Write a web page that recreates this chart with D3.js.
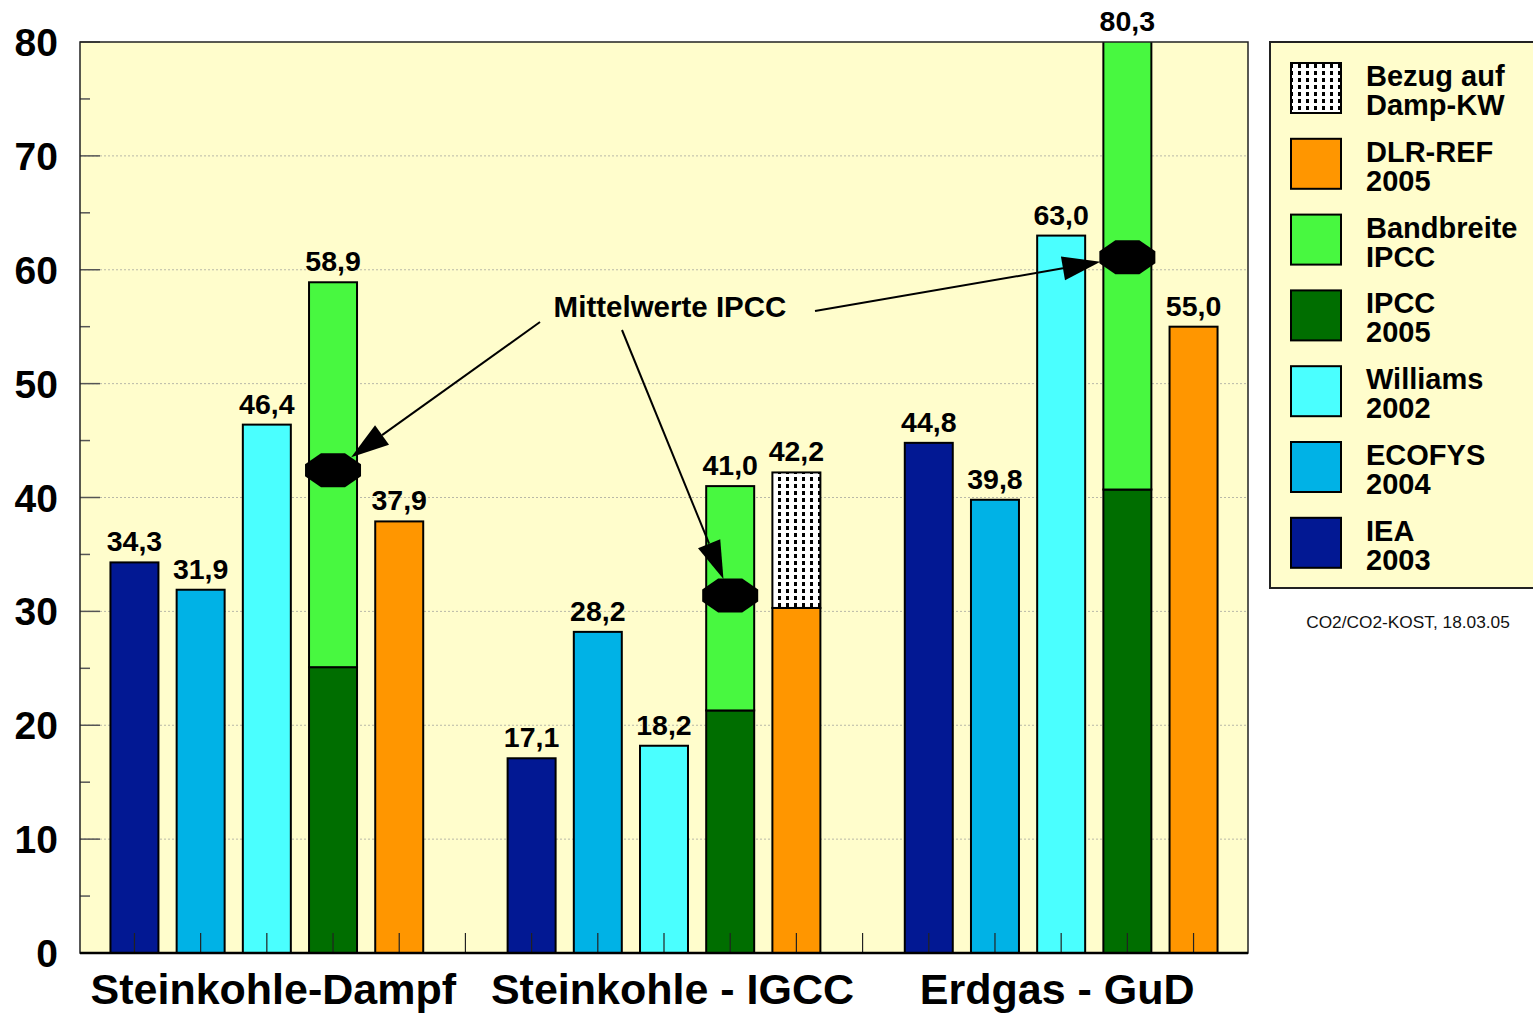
<!DOCTYPE html>
<html>
<head>
<meta charset="utf-8">
<script src="https://cdn.jsdelivr.net/npm/d3@7"></script>
<style>
  html, body { margin: 0; padding: 0; background: #ffffff; }
  svg { display: block; font-family: "Liberation Sans", Arial, sans-serif; }
</style>
</head>
<body>
<svg id="chart" width="1533" height="1013"></svg>
<script>
// CO2-Vermeidungskosten je Kraftwerkstyp und Quelle
const categories = ["Steinkohle-Dampf", "Steinkohle - IGCC", "Erdgas - GuD"];
const iea2003      = [34.3, 17.1, 44.8];
const ecofys2004   = [31.9, 28.2, 39.8];
const williams2002 = [46.4, 18.2, 63.0];
const ipcc2005Low  = [25.1, 21.3, 40.7];   // untere Grenze IPCC 2005
const ipccHigh     = [58.9, 41.0, 80.3];   // obere Grenze Bandbreite IPCC
const ipccMean     = [42.4, 31.4, 61.1];   // Mittelwerte IPCC
const dlrRef2005   = [37.9, 30.3, 55.0];
const bezugDamp    = [null, 42.2, null];   // Bezug auf Dampf-KW
const yTicks = [0, 10, 20, 30, 40, 50, 60, 70, 80];
const yMinorTicks = [5, 15, 25, 35, 45, 55, 65, 75];

const legendItems = [
  { key: "bezug",    lines: ["Bezug auf", "Damp-KW"] },
  { key: "dlr",      lines: ["DLR-REF", "2005"] },
  { key: "band",     lines: ["Bandbreite", "IPCC"] },
  { key: "ipcc",     lines: ["IPCC", "2005"] },
  { key: "williams", lines: ["Williams", "2002"] },
  { key: "ecofys",   lines: ["ECOFYS", "2004"] },
  { key: "iea",      lines: ["IEA", "2003"] }
];

const colors = {
  iea: "#021893", ecofys: "#00B2E6", williams: "#4AFFFF",
  ipcc: "#006E00", band: "#48F840", dlr: "#FF9600", bezug: "url(#dots)"
};

const fmt = v => d3.format(".1f")(v).replace(".", ",");

const svg = d3.select("#chart");
const plot = { left: 80, right: 1248, top: 42, bottom: 953 };
const bg = "#FFFDCC";

// dotted fill pattern
const defs = svg.append("defs");
const pat = defs.append("pattern").attr("id", "dots")
  .attr("patternUnits", "userSpaceOnUse").attr("width", 8).attr("height", 7);
pat.append("rect").attr("width", 8).attr("height", 7).attr("fill", "#ffffff");
pat.append("rect").attr("x", 2).attr("y", 1).attr("width", 3).attr("height", 4).attr("fill", "#000");
defs.append("clipPath").attr("id", "plotClip").append("rect")
  .attr("x", plot.left).attr("y", plot.top)
  .attr("width", plot.right - plot.left).attr("height", plot.bottom - plot.top);

// scales: 3 groups of 5 bars plus an empty slot between groups
const nSlots = categories.length * 6 - 1;
const x = d3.scaleBand().domain(d3.range(nSlots))
  .range([plot.left, plot.right]).paddingInner(0.275).paddingOuter(0.46);
const y = d3.scaleLinear().domain([0, 80]).range([plot.bottom, plot.top]);
const slot = (g, i) => g * 6 + i;
const cx = s => x(s) + x.bandwidth() / 2;

// plot background
svg.append("rect").attr("x", plot.left).attr("y", plot.top)
  .attr("width", plot.right - plot.left).attr("height", plot.bottom - plot.top)
  .attr("fill", bg);

// grid lines
svg.append("g").selectAll("line").data(yTicks.filter(t => t > 0 && t < 80)).join("line")
  .attr("x1", plot.left).attr("x2", plot.right)
  .attr("y1", d => y(d)).attr("y2", d => y(d))
  .attr("stroke", "#b8b8a8").attr("stroke-width", 1).attr("stroke-dasharray", "2,2");

// y axis ticks
svg.append("g").selectAll("line").data(yTicks).join("line")
  .attr("x1", plot.left).attr("x2", plot.left + 20)
  .attr("y1", d => y(d)).attr("y2", d => y(d))
  .attr("stroke", "#555").attr("stroke-width", 1.5);
svg.append("g").selectAll("line").data(yMinorTicks).join("line")
  .attr("x1", plot.left).attr("x2", plot.left + 10)
  .attr("y1", d => y(d)).attr("y2", d => y(d))
  .attr("stroke", "#555").attr("stroke-width", 1.5);

// bars
const bars = [];
categories.forEach((c, g) => {
  bars.push({ s: slot(g, 0), y0: 0, y1: iea2003[g], fill: colors.iea });
  bars.push({ s: slot(g, 1), y0: 0, y1: ecofys2004[g], fill: colors.ecofys });
  bars.push({ s: slot(g, 2), y0: 0, y1: williams2002[g], fill: colors.williams });
  bars.push({ s: slot(g, 3), y0: 0, y1: ipcc2005Low[g], fill: colors.ipcc });
  bars.push({ s: slot(g, 3), y0: ipcc2005Low[g], y1: ipccHigh[g], fill: colors.band });
  bars.push({ s: slot(g, 4), y0: 0, y1: dlrRef2005[g], fill: colors.dlr });
  if (bezugDamp[g] != null)
    bars.push({ s: slot(g, 4), y0: dlrRef2005[g], y1: bezugDamp[g], fill: colors.bezug });
});
svg.append("g").attr("clip-path", "url(#plotClip)").selectAll("rect").data(bars).join("rect")
  .attr("x", d => x(d.s)).attr("width", x.bandwidth())
  .attr("y", d => y(d.y1)).attr("height", d => y(d.y0) - y(d.y1))
  .attr("fill", d => d.fill).attr("stroke", "#000").attr("stroke-width", 2);

// bottom ticks at every slot
svg.append("g").selectAll("line").data(d3.range(nSlots)).join("line")
  .attr("x1", d => cx(d)).attr("x2", d => cx(d))
  .attr("y1", plot.bottom).attr("y2", plot.bottom - 20)
  .attr("stroke", "#222").attr("stroke-width", 1.2);

// frame
svg.append("rect").attr("x", plot.left).attr("y", plot.top)
  .attr("width", plot.right - plot.left).attr("height", plot.bottom - plot.top)
  .attr("fill", "none").attr("stroke", "#222").attr("stroke-width", 1.5);
svg.append("line").attr("x1", plot.left).attr("x2", plot.right)
  .attr("y1", plot.bottom).attr("y2", plot.bottom).attr("stroke", "#000").attr("stroke-width", 2.5);

// value labels
const labels = [];
categories.forEach((c, g) => {
  labels.push({ s: slot(g, 0), v: iea2003[g] });
  labels.push({ s: slot(g, 1), v: ecofys2004[g] });
  labels.push({ s: slot(g, 2), v: williams2002[g] });
  labels.push({ s: slot(g, 3), v: ipccHigh[g] });
  labels.push({ s: slot(g, 4), v: bezugDamp[g] != null ? bezugDamp[g] : dlrRef2005[g] });
});
svg.append("g").selectAll("text").data(labels).join("text")
  .attr("x", d => cx(d.s))
  .attr("y", d => Math.max(y(d.v), plot.top) - 11)
  .attr("text-anchor", "middle").attr("font-size", 28.5).attr("font-weight", "bold")
  .attr("fill", "#000").text(d => fmt(d.v));

// y axis labels
svg.append("g").selectAll("text").data(yTicks).join("text")
  .attr("x", 58).attr("y", d => y(d) + 14)
  .attr("text-anchor", "end").attr("font-size", 39).attr("font-weight", "bold")
  .text(d => d);

// category labels
const catShift = [6.5, 8.5, -4];
svg.append("g").selectAll("text").data(categories).join("text")
  .attr("x", (d, g) => (cx(slot(g, 0)) + cx(slot(g, 4))) / 2 + catShift[g])
  .attr("y", 1004)
  .attr("text-anchor", "middle").attr("font-size", 43).attr("font-weight", "bold")
  .text(d => d);

// IPCC mean markers (octagons)
const oct = [[-28, -6], [-12, -17], [12, -17], [28, -6], [28, 6], [12, 17], [-12, 17], [-28, 6]];
const markers = categories.map((c, g) => ({ x: cx(slot(g, 3)), y: y(ipccMean[g]) }));
svg.append("g").selectAll("polygon").data(markers).join("polygon")
  .attr("points", d => oct.map(p => [d.x + p[0], d.y + p[1]].join(",")).join(" "))
  .attr("fill", "#000");

// annotation with arrows
const note = { x: 670, y: 317, text: "Mittelwerte IPCC" };
svg.append("text").attr("x", note.x).attr("y", note.y)
  .attr("text-anchor", "middle").attr("font-size", 29.5).attr("font-weight", "bold")
  .text(note.text);
const starts = [[540, 322], [622, 330], [815, 311]];
const arrows = svg.append("g");
starts.forEach((st, i) => {
  const m = markers[i];
  let dx = st[0] - m.x, dy = st[1] - m.y;
  const len = Math.hypot(dx, dy);
  dx /= len; dy /= len;
  const r = 1 / Math.sqrt((dx / 28) ** 2 + (dy / 17) ** 2);
  const tip = [m.x + dx * r, m.y + dy * r];
  const hl = 38, hw = 12;
  const base = [tip[0] + dx * hl, tip[1] + dy * hl];
  arrows.append("line").attr("x1", st[0]).attr("y1", st[1])
    .attr("x2", base[0]).attr("y2", base[1]).attr("stroke", "#000").attr("stroke-width", 2);
  arrows.append("polygon")
    .attr("points", [tip, [base[0] - dy * hw, base[1] + dx * hw], [base[0] + dy * hw, base[1] - dx * hw]]
      .map(p => p.join(",")).join(" "))
    .attr("fill", "#000");
});

// legend
const lg = svg.append("g");
lg.append("rect").attr("x", 1270).attr("y", 42).attr("width", 280).attr("height", 546)
  .attr("fill", bg).attr("stroke", "#222").attr("stroke-width", 2);
legendItems.forEach((it, i) => {
  const top = 63 + i * 75.8;
  lg.append("rect").attr("x", 1291).attr("y", top).attr("width", 50).attr("height", 50)
    .attr("fill", colors[it.key]).attr("stroke", "#000").attr("stroke-width", 2);
  it.lines.forEach((ln, j) => {
    lg.append("text").attr("x", 1366).attr("y", top + 23 + j * 29)
      .attr("font-size", 29).attr("font-weight", "bold").text(ln);
  });
});
svg.append("text").attr("x", 1408).attr("y", 628).attr("text-anchor", "middle")
  .attr("font-size", 17.3).attr("fill", "#111").text("CO2/CO2-KOST, 18.03.05");
</script>
</body>
</html>
